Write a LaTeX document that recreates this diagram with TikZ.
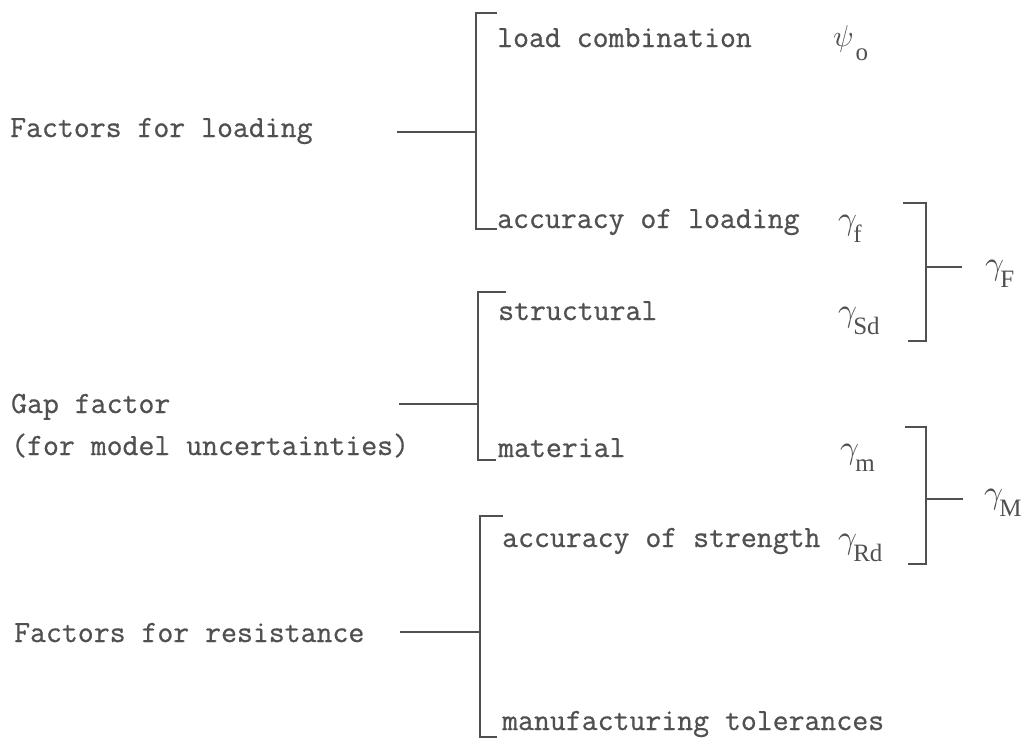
\documentclass[tikz,border=0pt]{standalone}
\usepackage{fontspec}
\newfontfamily\grk{Liberation Serif}
\newfontfamily\lmm{Latin Modern Math}
\newfontfamily\tw{Latin Modern Mono}[FakeBold=0.7]
\definecolor{ink}{RGB}{80,80,80}
\tikzset{
  lbl/.style={inner sep=0pt, anchor=base west, text=ink, font=\fontsize{30.9}{36}\selectfont\tw},
  sym/.style={inner sep=0pt, anchor=base west, text=ink, font=\fontsize{25}{30}\selectfont\grk},
  brk/.style={draw=ink, line width=1.8pt},
}
\newcommand{\gsym}[1]{{\fontsize{33}{33}\selectfont\lmm 𝛾}\kern-2pt\raisebox{-13pt}{#1}}
\begin{document}
\begin{tikzpicture}[x=1pt,y=-1pt]
\useasboundingbox (0,0) rectangle (1023,739);
% left labels
\node[lbl] (fl) at (10,137) {Factors for loading};
\node[lbl] (gf) at (11,413) {Gap factor};
\node[lbl] (gf2) at (11,455) {(for model uncertainties)};
\node[lbl] (fr) at (14,642) {Factors for resistance};
% middle labels
\node[lbl] (lc) at (497,47) {load combination};
\node[lbl] (al) at (497,228) {accuracy of loading};
\node[lbl] (st) at (498,320) {structural};
\node[lbl] (ma) at (498,457) {material};
\node[lbl] (as) at (502,547) {accuracy of strength};
\node[lbl] (mt) at (502,730) {manufacturing tolerances};
% symbols
\node[sym] (psi) at (833,46) {{\fontsize{30}{30}\selectfont\lmm 𝜓}\hspace{3pt}\raisebox{-14pt}{o}};
\node[sym] (gf1) at (838,229) {\gsym{f}};
\node[sym] (gsd) at (838,321) {\gsym{Sd}};
\node[sym] (gm) at (840,458) {\gsym{m}};
\node[sym] (grd) at (838,548) {\gsym{Rd}};
\node[sym] (gF) at (985,274) {\gsym{F}};
\node[sym] (gM) at (984,503) {\gsym{M}};
% bracket 1
\coordinate (b1t) at (476,13);
\coordinate (b1b) at (476,229);
\coordinate (b1m) at (476,132);
\coordinate (c1) at (397,132);
\draw[brk] (497,13) -- (b1t) -- (b1b) -- (497,229);
\draw[brk] (c1) -- (b1m);
% bracket 2
\coordinate (b2t) at (478,292);
\coordinate (b2b) at (478,460);
\coordinate (b2m) at (478,404);
\coordinate (c2) at (399,404);
\draw[brk] (506,292) -- (b2t) -- (b2b) -- (496,460);
\draw[brk] (c2) -- (b2m);
% bracket 3
\coordinate (b3t) at (480,516);
\coordinate (b3b) at (480,737);
\coordinate (b3m) at (480,632);
\coordinate (c3) at (400,632);
\draw[brk] (503,516) -- (b3t) -- (b3b) -- (497,737);
\draw[brk] (c3) -- (b3m);
% gamma_F bracket
\coordinate (bft) at (926,203);
\coordinate (bfb) at (926,341);
\coordinate (bfm) at (926,267);
\coordinate (cf) at (962,267);
\draw[brk] (903,203) -- (bft) -- (bfb) -- (908,341);
\draw[brk] (bfm) -- (cf);
% gamma_M bracket
\coordinate (bmt) at (926,427);
\coordinate (bmb) at (926,564);
\coordinate (bmm) at (926,499);
\coordinate (cm) at (963,499);
\draw[brk] (905,427) -- (bmt) -- (bmb) -- (908,564);
\draw[brk] (bmm) -- (cm);
\end{tikzpicture}
\end{document}
